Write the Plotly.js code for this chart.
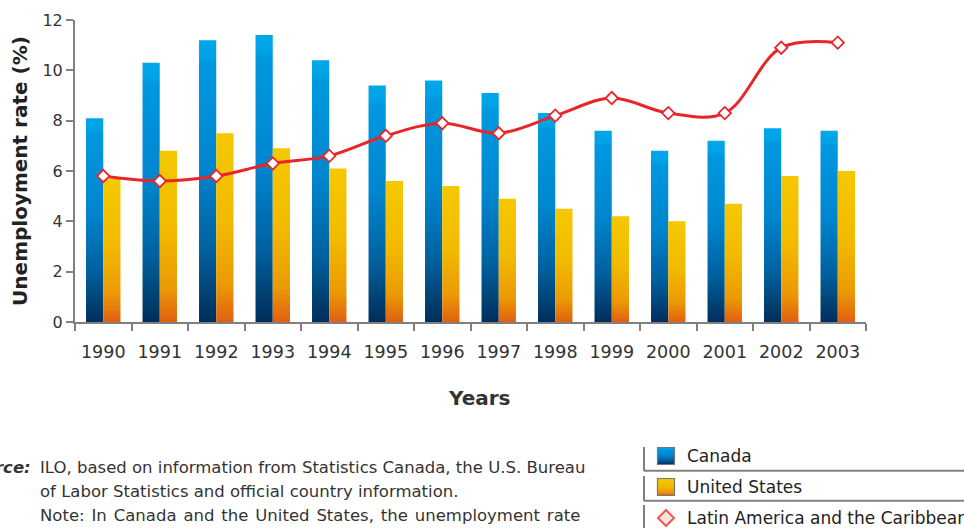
<!DOCTYPE html>
<html>
<head>
<meta charset="utf-8">
<script src="https://cdn.plot.ly/plotly-3.0.1.min.js"></script>
<style>
html,body{margin:0;padding:0;background:#fff;overflow:hidden;}
#chart{width:964px;height:528px;}
</style>
</head>
<body>
<div id="chart"></div>
<script>
var years = ['1990','1991','1992','1993','1994','1995','1996','1997','1998','1999','2000','2001','2002','2003'];
var canada = [8.1, 10.3, 11.2, 11.4, 10.4, 9.4, 9.6, 9.1, 8.3, 7.6, 6.8, 7.2, 7.7, 7.6];
var unitedStates = [5.7, 6.8, 7.5, 6.9, 6.1, 5.6, 5.4, 4.9, 4.5, 4.2, 4.0, 4.7, 5.8, 6.0];
var latinAmerica = [5.8, 5.6, 5.8, 6.3, 6.6, 7.4, 7.9, 7.5, 8.2, 8.9, 8.3, 8.3, 10.9, 11.1];
var seriesNames = ['Canada', 'United States', 'Latin America and the Caribbean'];
var yTicks = [0, 2, 4, 6, 8, 10, 12];

// plot area in pixels: x 75..866, y 20..322
var L = 75, R = 866, T = 20, B = 322;
function px(x){ return (x - L) / (R - L); }
function py(y){ return (B - y) / (B - T); }

var FONT = 'DejaVu Sans, Verdana, sans-serif';
var GRAY = '#808080';
var RED = '#e8262a';

var traces = [
  {type:'bar', name:seriesNames[0], x:years, y:canada,
   marker:{color:'#0090d8', line:{width:0}}, hoverinfo:'y'},
  {type:'bar', name:seriesNames[1], x:years, y:unitedStates,
   marker:{color:'#f2b400', line:{width:0}}, hoverinfo:'y'},
  {type:'scatter', mode:'lines+markers', name:seriesNames[2], x:years, y:latinAmerica,
   line:{color:RED, width:3, shape:'spline', smoothing:1},
   marker:{symbol:'diamond', size:9.5, color:'#ffffff', line:{color:RED, width:1.8}},
   hoverinfo:'y'}
];

function hline(x0,x1,y){ return {type:'line', xref:'paper', yref:'paper', x0:px(x0), x1:px(x1), y0:py(y), y1:py(y), line:{color:GRAY, width:2}}; }
function vline(x,y0,y1){ return {type:'line', xref:'paper', yref:'paper', x0:px(x), x1:px(x), y0:py(y0), y1:py(y1), line:{color:GRAY, width:2}}; }
function box(cx,cy,h,fill){ return {type:'rect', xref:'paper', yref:'paper', x0:px(cx-h), x1:px(cx+h), y0:py(cy+h), y1:py(cy-h), fillcolor:fill, line:{color:'#777777', width:1.2}}; }
function diamond(cx,cy,h){
  var p = 'M'+px(cx)+','+py(cy-h)+' L'+px(cx+h)+','+py(cy)+' L'+px(cx)+','+py(cy+h)+' L'+px(cx-h)+','+py(cy)+' Z';
  return {type:'path', xref:'paper', yref:'paper', path:p, fillcolor:'#fde3e0', line:{color:'#f05a4f', width:2}};
}

// legend layout (decoration)
var legendRows = [456, 487, 518];
var legendTextX = 685;
var legendSymX = 666;

var shapes = [
  hline(644,964,470.7), hline(644,964,500.7),
  vline(644,447,471), vline(644,476,501), vline(644,505,528),
  box(legendSymX, legendRows[0], 8.5, '#0090d8'),
  box(legendSymX, legendRows[1], 8.5, '#f2b400'),
  diamond(legendSymX, legendRows[2], 8)
];

var SRC = 16.5;
var noteText = 'Note: In Canada and the United States, the unemployment rate'.split(' ').join(' \u200A');
var annotations = [
  {xref:'paper', yref:'paper', x:px(33), y:py(467), xanchor:'right', yanchor:'middle', showarrow:false,
   text:'<b><i>Source:</i></b>', font:{family:FONT, size:SRC, color:'#333333'}},
  {xref:'paper', yref:'paper', x:px(38), y:py(467), xanchor:'left', yanchor:'middle', showarrow:false,
   text:'ILO, based on information from Statistics Canada, the U.S. Bureau', font:{family:FONT, size:SRC, color:'#333333'}},
  {xref:'paper', yref:'paper', x:px(38), y:py(491), xanchor:'left', yanchor:'middle', showarrow:false,
   text:'of Labor Statistics and official country information.', font:{family:FONT, size:SRC, color:'#333333'}},
  {xref:'paper', yref:'paper', x:px(38), y:py(515), xanchor:'left', yanchor:'middle', showarrow:false,
   text:noteText, font:{family:FONT, size:SRC, color:'#333333'}},
  {xref:'paper', yref:'paper', x:px(479), y:py(398), xanchor:'center', yanchor:'middle', showarrow:false,
   text:'<b>Years</b>', font:{family:FONT, size:20, color:'#333333'}}
];
seriesNames.forEach(function(n, i){
  annotations.push({xref:'paper', yref:'paper', x:px(legendTextX), y:py(legendRows[i]), xanchor:'left', yanchor:'middle',
    showarrow:false, text:n, font:{family:FONT, size:17, color:'#222222'}});
});

var layout = {
  width:964, height:528,
  margin:{l:L, r:964-R, t:T, b:528-B, pad:0},
  paper_bgcolor:'#ffffff', plot_bgcolor:'#ffffff',
  font:{family:FONT, color:'#333333', size:16},
  barmode:'group', bargap:0.39, bargroupgap:0,
  showlegend:false,
  xaxis:{type:'category', range:[-0.5, 13.5], showgrid:false, zeroline:false, showline:true, linecolor:GRAY, linewidth:2,
         ticks:'outside', tickson:'boundaries', ticklen:7, tickcolor:GRAY, tickwidth:2, tickangle:0,
         ticklabelstandoff:13,
         tickfont:{family:FONT, size:17.5, color:'#333333'},
         automargin:false, fixedrange:true},
  yaxis:{range:[0,12], tickvals:yTicks, showgrid:false, zeroline:false, showline:true, linecolor:GRAY, linewidth:2,
         ticks:'outside', ticklen:7, tickcolor:GRAY, tickwidth:2,
         tickfont:{family:FONT, size:16, color:'#333333'},
         title:{text:'<b>Unemployment rate (%)</b>', font:{family:FONT, size:20, color:'#222222'}, standoff:9},
         automargin:false, fixedrange:true},
  shapes:shapes,
  annotations:annotations
};

function addGradients(gd){
  var svg = gd.querySelector('svg.main-svg');
  var NS = 'http://www.w3.org/2000/svg';
  var defs = document.createElementNS(NS,'defs');
  function grad(id, stops){
    var g = document.createElementNS(NS,'linearGradient');
    g.setAttribute('id', id); g.setAttribute('x1','0'); g.setAttribute('y1','0'); g.setAttribute('x2','0'); g.setAttribute('y2','1');
    stops.forEach(function(s){
      var st = document.createElementNS(NS,'stop');
      st.setAttribute('offset', s[0]); st.setAttribute('stop-color', s[1]);
      g.appendChild(st);
    });
    defs.appendChild(g);
  }
  grad('gCanada', [[0,'#00a8ea'],[0.06,'#00a2e6'],[0.08,'#0098e0'],[0.45,'#0086cf'],[0.75,'#00609e'],[1,'#002e5a']]);
  grad('gUS', [[0,'#f5c800'],[0.45,'#f2bb00'],[0.8,'#eb9a06'],[1,'#e06010']]);
  svg.insertBefore(defs, svg.firstChild);
  var barTraces = gd.querySelectorAll('.barlayer .trace');
  var ids = ['gCanada','gUS'];
  for (var i=0;i<barTraces.length && i<2;i++){
    barTraces[i].querySelectorAll('path').forEach(function(p){ p.style.fill = 'url(#'+ids[i]+')'; });
  }
  var sp = gd.querySelectorAll('.shapelayer path');
  sp.forEach(function(p){
    var idx = p.getAttribute('data-index');
    if (idx === '5') p.style.fill = 'url(#gCanada)';
    if (idx === '6') p.style.fill = 'url(#gUS)';
  });
}

Plotly.newPlot('chart', traces, layout, {displayModeBar:false, staticPlot:true}).then(addGradients);
</script>
</body>
</html>
